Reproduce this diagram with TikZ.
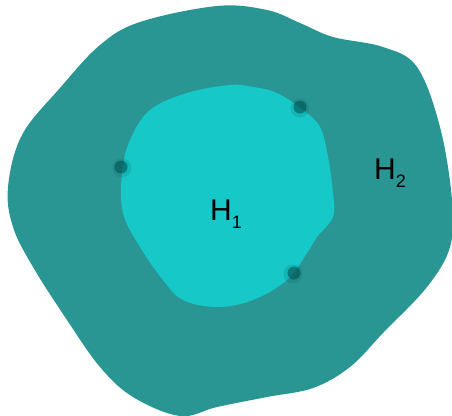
\documentclass[tikz,border=0pt]{standalone}
\usepackage{fontspec}
\setmainfont{Liberation Sans}
\definecolor{outerteal}{RGB}{42,150,148}
\definecolor{innercyan}{RGB}{23,200,200}
\definecolor{dotdark}{RGB}{0,85,85}
\tikzset{
  blobouter/.style={fill=outerteal, draw=none},
  blobinner/.style={fill=innercyan, draw=none},
  halo/.style={circle, fill=dotdark, fill opacity=0.16, minimum size=19pt, inner sep=0pt, draw=none},
  core/.style={circle, fill=dotdark, fill opacity=0.6, minimum size=13pt, inner sep=0pt, draw=none},
  lbl/.style={font=\fontsize{30}{30}\selectfont, text=black, inner sep=0pt}
}
\begin{document}
\begin{tikzpicture}[x=1pt,y=-1pt]
\useasboundingbox (0,0) rectangle (452,415);
\fill[outerteal] plot[smooth cycle, tension=0.6] coordinates {
 (217,6) (267,10) (300,23) (333,37) (383,47) (417,67) (440,127) (452,200)
 (450,247) (427,287) (383,333) (350,367) (313,388) (267,397) (217,407)
 (180,416) (133,397) (100,367) (67,320) (33,267) (13,227) (8,187)
 (22,135) (60,88) (100,45) (140,22)};
\fill[innercyan] plot[smooth cycle, tension=0.6] coordinates {
 (230,85) (253,87) (277,93) (303,110) (320,127) (328,157) (333,193) (333,217)
 (317,237) (307,253) (287,280) (253,300) (217,307) (183,300) (163,280)
 (140,247) (123,213) (122,173) (130,140) (150,110) (187,93)};
\node[halo] (d1h) at (300,108) {};
\node[core] (d1) at (300,107) {};
\node[halo] (d2h) at (122,168) {};
\node[core] (d2) at (121,167) {};
\node[halo] (d3h) at (293,274) {};
\node[core] (d3) at (294,273) {};
\node[lbl] (h1) at (226,214) {H\raisebox{-0.25em}{\fontsize{18}{18}\selectfont 1}};
\node[lbl] (h2) at (390,173) {H\raisebox{-0.25em}{\fontsize{18}{18}\selectfont 2}};
\end{tikzpicture}
\end{document}
